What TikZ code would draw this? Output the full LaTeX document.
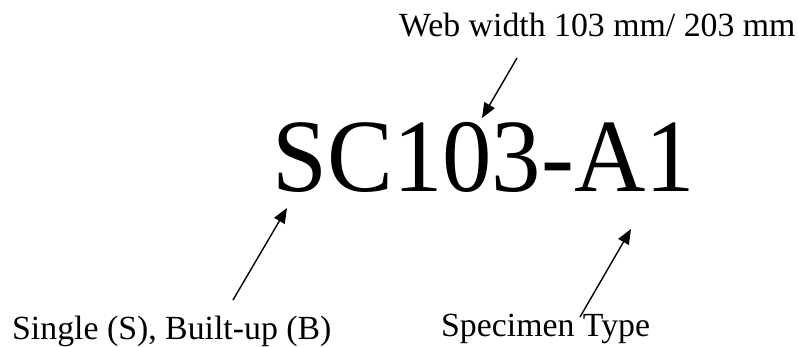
\documentclass[tikz,border=0pt]{standalone}
\usepackage{fontspec}
\setmainfont{Liberation Serif}
\usetikzlibrary{arrows.meta}
\begin{document}
\begin{tikzpicture}[x=1pt,y=-1pt,
  lbl/.style={inner sep=0pt,anchor=base west,font=\fontsize{33.8}{40}\selectfont},
  big/.style={inner sep=0pt,anchor=base west,xscale=0.95,font=\fontsize{104}{120}\selectfont},
  pointer/.style={line width=1.4pt,-{Triangle[length=15pt,width=12pt]}}]
\useasboundingbox (0,0) rectangle (798,347);
\node[lbl] (web) at (399,37) {Web width 103 mm/ 203 mm};
\node[big] (code) at (272,192) {SC103-A1};
\node[lbl] (single) at (12,340) {Single (S), Built-up (B)};
\node[lbl] (type) at (441,337) {Specimen Type};
\coordinate (t1) at (517,58);
\coordinate (h1) at (482,118);
\coordinate (t2) at (233,300);
\coordinate (h2) at (287,208);
\coordinate (t3) at (580,317);
\coordinate (h3) at (631,229);
\draw[pointer] (t1) -- (h1);
\draw[pointer] (t2) -- (h2);
\draw[pointer] (t3) -- (h3);
\end{tikzpicture}
\end{document}
